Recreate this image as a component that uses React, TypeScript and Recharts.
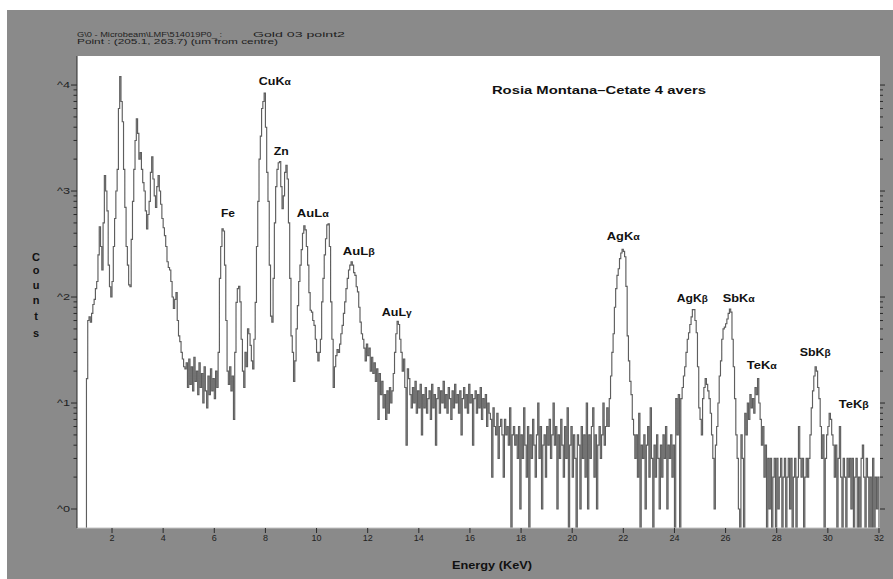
import React from 'react';
import { LineChart, Line, XAxis, YAxis, CartesianGrid, ReferenceDot } from 'recharts';

// EDS spectrum, counts per 0.05 keV channel
const CHANNEL_KEV = 0.05;

// 0.95 – 4.85 keV
const lowCounts = [
  0, 17, 60, 65, 58, 70, 85, 95, 120, 140,
  250, 460, 300, 180, 500, 1400, 1000, 650, 200, 125,
  100, 140, 300, 550, 1000, 1600, 6000, 12000, 7000, 4500,
  1600, 700, 300, 200, 130, 125, 350, 800, 1600, 3000,
  4800, 3500, 2000, 2300, 1600, 1200, 1000, 650, 440, 600,
  800, 1500, 2100, 1300, 900, 700, 1100, 1400, 1000, 750,
  550, 450, 380, 300, 215, 190, 180, 140, 100, 78,
  95, 110, 60, 43, 38, 30, 26, 22, 21,
];

// 4.90 – 9.10 keV (Fe, Cu, Zn)
const feCuCounts = [
  24, 14, 26, 15, 22, 13, 27, 16, 20, 12,
  24, 14, 19, 10, 22, 13, 9, 18, 12, 21,
  13, 17, 11, 20, 14, 30, 150, 300, 440, 420,
  200, 60, 20, 15, 22, 13, 18, 7, 30, 89,
  120, 126, 90, 40, 20, 14, 30, 22, 50, 45,
  35, 25, 21, 40, 89, 300, 800, 2000, 3300, 6000,
  7000, 8400, 4000, 1500, 800, 200, 66, 58, 150, 500,
  1100, 1600, 1850, 1900, 1100, 680, 900, 1500, 1750, 1300,
  500, 150, 43, 30, 16,
];

// 9.15 – 13.60 keV (Au L lines)
const auCounts = [
  25, 50, 83, 140, 200, 280, 400, 470, 430, 300,
  200, 110, 75, 72, 60, 54, 40, 30, 25, 30,
  40, 90, 150, 250, 355, 480, 490, 300, 90, 40,
  14, 22, 28, 32, 30, 36, 45, 54, 70, 90,
  120, 150, 180, 200, 215, 200, 170, 160, 125, 112,
  80, 58, 45, 40, 33, 25, 36, 28, 33, 20,
  27, 19, 24, 16, 21, 7, 19, 12, 16, 9,
  12, 7, 13, 8, 14, 10, 13, 19, 30, 45,
  59, 55, 40, 30, 20, 26, 14, 4, 21, 17,
];

// 13.65 – 21.35 keV (background)
const bgCounts = [
  12, 9, 14, 10, 16, 8, 13, 9, 15, 5,
  12, 9, 14, 8, 11, 13, 7, 15, 9, 12,
  4, 11, 14, 8, 13, 10, 16, 9, 12, 8,
  14, 11, 7, 13, 9, 15, 10, 12, 8, 13,
  5, 11, 14, 9, 12, 8, 15, 10, 12, 4,
  11, 13, 8, 12, 9, 14, 7, 11, 9, 12,
  6, 10, 8, 7, 2, 9, 6, 5, 8, 3,
  6, 7, 5, 2, 7, 5, 6, 4, 9, 0,
  5, 6, 4, 5, 3, 6, 1, 5, 3, 9,
  4, 2, 6, 0, 5, 3, 7, 4, 2, 5,
  10, 3, 6, 1, 4, 5, 2, 6, 4, 7,
  3, 5, 10, 4, 6, 1, 5, 3, 7, 4,
  2, 6, 3, 9, 0, 4, 6, 2, 5, 3,
  0, 5, 4, 1, 6, 3, 5, 2, 10, 1,
  5, 3, 6, 9, 2, 5, 1, 4, 6, 3,
  5, 10, 4, 6, 9,
];

// 21.40 – 24.10 keV (Ag K alpha)
const agCounts = [
  6, 11, 18, 30, 45, 80, 120, 160, 185, 230,
  260, 282, 270, 240, 126, 43, 25, 16, 12, 7,
  5, 3, 5, 2, 8, 0, 4, 3, 5, 1,
  4, 6, 2, 9, 3, 0, 4, 2, 5, 3,
  1, 4, 2, 5, 3, 6, 1, 4, 3, 5,
  2, 4, 0, 11, 5,
];

// 24.15 – 32.00 keV (Ag K beta, Sb, Te)
const sbTeCounts = [
  12, 0, 11, 14, 18, 22, 30, 40, 46, 55,
  65, 76, 76, 60, 46, 22, 9, 7, 5, 11,
  14, 17, 15, 13, 11, 8, 5, 3, 1, 4,
  6, 10, 18, 25, 40, 50, 52, 56, 62, 70,
  77, 72, 40, 22, 11, 5, 3, 1, 0, 5,
  3, 0, 8, 5, 10, 7, 12, 9, 11, 8,
  14, 12, 17, 10, 7, 4, 6, 2, 4, 0,
  3, 1, 3, 0, 2, 3, 0, 3, 1, 2,
  3, 0, 2, 3, 0, 2, 3, 1, 3, 0,
  2, 3, 0, 2, 6, 3, 2, 3, 0, 2,
  3, 2, 3, 5, 9, 13, 18, 22, 20, 14,
  11, 6, 3, 5, 0, 3, 5, 6, 8, 7,
  5, 4, 2, 4, 0, 3, 6, 2, 0, 3,
  2, 0, 3, 2, 3, 1, 3, 0, 2, 3,
  0, 2, 0, 3, 4, 2, 0, 3, 2, 0,
  2, 0, 3, 0, 2, 1, 2, 0,
];

const SEGMENTS = [
  { start: 0.95, counts: lowCounts },
  { start: 4.9, counts: feCuCounts },
  { start: 9.15, counts: auCounts },
  { start: 13.65, counts: bgCounts },
  { start: 21.4, counts: agCounts },
  { start: 24.15, counts: sbTeCounts },
];

const X_TICKS = [2, 4, 6, 8, 10, 12, 14, 16, 18, 20, 22, 24, 26, 28, 30, 32];
const Y_DECADES = [1, 10, 100, 1000, 10000];
const Y_DECADE_LABELS = ['^0', '^1', '^2', '^3', '^4'];

// peak labels: text, greek suffix, anchor (keV, counts), drawn width
const PEAK_LABELS = [
  { text: 'Fe', greek: '', e: 6.26, c: 569, w: 14 },
  { text: 'CuK', greek: 'α', e: 7.74, c: 10000, w: 32 },
  { text: 'Zn', greek: '', e: 8.33, c: 2190, w: 15 },
  { text: 'AuL', greek: 'α', e: 9.23, c: 569, w: 32 },
  { text: 'AuL', greek: 'β', e: 11.03, c: 249, w: 32 },
  { text: 'AuL', greek: 'γ', e: 12.55, c: 66, w: 30 },
  { text: 'AgK', greek: 'α', e: 21.35, c: 345, w: 33 },
  { text: 'AgK', greek: 'β', e: 24.09, c: 90, w: 31 },
  { text: 'SbK', greek: 'α', e: 25.89, c: 90, w: 32 },
  { text: 'TeK', greek: 'α', e: 26.83, c: 21, w: 30 },
  { text: 'SbK', greek: 'β', e: 28.9, c: 28, w: 31 },
  { text: 'TeK', greek: 'β', e: 30.43, c: 9, w: 30 },
  { text: 'Rosia Montana–Cetate 4 avers', greek: '', e: 16.86, c: 8230, w: 214 },
];

const HEADER_1A = 'G\\0 - Microbeam\\LMF\\514019P0_  :';
const HEADER_1B = 'Gold 03 point2';
const HEADER_2 = 'Point : (205.1, 263.7)  (um from centre)';
const Y_TITLE = 'Counts';
const X_TITLE = 'Energy (KeV)';

const W = 893;
const H = 579;
const X_DOMAIN: [number, number] = [0.63, 32.04];
const Y_DOMAIN: [number, number] = [0.662, 18790];
const ZERO_PLOT = 0.3; // empty channels fall below the axis floor
const FONT = "'Liberation Sans', Arial, sans-serif";
const FRAME = '#8a8a8a';

const rows = SEGMENTS.flatMap((s) =>
  s.counts.map((c, i) => ({
    e: Math.round((s.start + i * CHANNEL_KEV) * 100) / 100,
    c: c > 0 ? c : ZERO_PLOT,
  })),
);

const yTicks = Y_DECADES.flatMap((d) => [d, 2 * d, 3 * d, 4 * d, 5 * d, 6 * d, 7 * d, 8 * d, 9 * d]).filter(
  (v) => v <= Y_DOMAIN[1],
);

function LeftTick({ x, y, payload }: any) {
  const idx = Y_DECADES.indexOf(payload.value);
  const major = idx >= 0;
  return (
    <g>
      <line x1={x - (major ? 6 : 3.5)} x2={x} y1={y} y2={y} stroke="#2a2a2a" strokeWidth={1} />
      {major && (
        <text
          x={x - 20}
          y={y + 3}
          fontFamily={FONT}
          fontSize={9}
          fill="#222"
          textLength={13}
          lengthAdjust="spacingAndGlyphs"
        >
          {Y_DECADE_LABELS[idx]}
        </text>
      )}
    </g>
  );
}

function RightTick({ x, y, payload }: any) {
  const major = Y_DECADES.indexOf(payload.value) >= 0;
  return <line x1={x} x2={x + (major ? 5 : 3)} y1={y} y2={y} stroke="#2a2a2a" strokeWidth={1} />;
}

function PeakText({ cx, cy, text, greek, w }: any) {
  return (
    <text
      x={cx}
      y={cy}
      fontFamily={FONT}
      fontWeight="bold"
      fontSize={11}
      fill="#111"
      textLength={w}
      lengthAdjust="spacingAndGlyphs"
    >
      {text}
      {greek && <tspan fontSize={9}>{greek}</tspan>}
    </text>
  );
}

export default function App() {
  return (
    <div style={{ position: 'absolute', left: 0, top: 0, width: W, height: H, background: '#fff', overflow: 'hidden' }}>
      <div style={{ position: 'absolute', left: 7, top: 10, right: 0, bottom: 0, background: FRAME }} />
      <div style={{ position: 'absolute', left: 0, top: 0 }}>
        <LineChart width={W} height={H} data={rows} margin={{ top: 56, right: 3, bottom: 21, left: 37 }}>
          <CartesianGrid fill="#fff" stroke="none" horizontal={false} vertical={false} />
          <XAxis
            dataKey="e"
            type="number"
            domain={X_DOMAIN}
            allowDataOverflow
            ticks={X_TICKS}
            interval={0}
            height={30}
            tickSize={5}
            tickMargin={2}
            axisLine={{ stroke: '#c4c4c4' }}
            tickLine={{ stroke: '#2a2a2a' }}
            tick={{ fontSize: 9, fill: '#222', fontFamily: FONT }}
          />
          <YAxis
            yAxisId="left"
            type="number"
            scale="log"
            domain={Y_DOMAIN}
            allowDataOverflow
            ticks={yTicks}
            interval={0}
            width={40}
            tickSize={0}
            tickMargin={0}
            tickLine={false}
            axisLine={{ stroke: '#2a2a2a' }}
            tick={<LeftTick />}
          />
          <YAxis
            yAxisId="right"
            orientation="right"
            type="number"
            scale="log"
            domain={Y_DOMAIN}
            allowDataOverflow
            ticks={yTicks}
            interval={0}
            width={10}
            tickSize={0}
            tickMargin={0}
            tickLine={false}
            axisLine={false}
            tick={<RightTick />}
          />
          <Line
            yAxisId="left"
            dataKey="c"
            type="stepAfter"
            stroke="#5e5e5e"
            strokeWidth={1.15}
            dot={false}
            activeDot={false}
            isAnimationActive={false}
          />
          {PEAK_LABELS.map((p) => (
            <ReferenceDot
              key={p.text + p.greek + p.e}
              yAxisId="left"
              x={p.e}
              y={p.c}
              r={0}
              shape={(props: any) => <PeakText cx={props.cx} cy={props.cy} text={p.text} greek={p.greek} w={p.w} />}
            />
          ))}
        </LineChart>
      </div>
      <svg width={W} height={H} style={{ position: 'absolute', left: 0, top: 0, pointerEvents: 'none' }}>
        <g fontFamily={FONT} fill="#1e1e1e" fontSize={7}>
          <text x={77} y={36.5} textLength={145} lengthAdjust="spacingAndGlyphs">{HEADER_1A}</text>
          <text x={253} y={36.5} textLength={92} lengthAdjust="spacingAndGlyphs">{HEADER_1B}</text>
          <text x={77} y={44} textLength={201} lengthAdjust="spacingAndGlyphs">{HEADER_2}</text>
        </g>
        <g fontFamily={FONT} fontWeight="bold" fontSize={11} fill="#111" textAnchor="middle">
          {Y_TITLE.split('').map((ch, i) => (
            <text key={i} x={36} y={[261, 274, 289, 304, 319.5, 337][i]}>
              {ch}
            </text>
          ))}
        </g>
        <text
          x={452}
          y={569}
          fontFamily={FONT}
          fontWeight="bold"
          fontSize={11}
          fill="#111"
          textLength={80}
          lengthAdjust="spacingAndGlyphs"
        >
          {X_TITLE}
        </text>
      </svg>
    </div>
  );
}
